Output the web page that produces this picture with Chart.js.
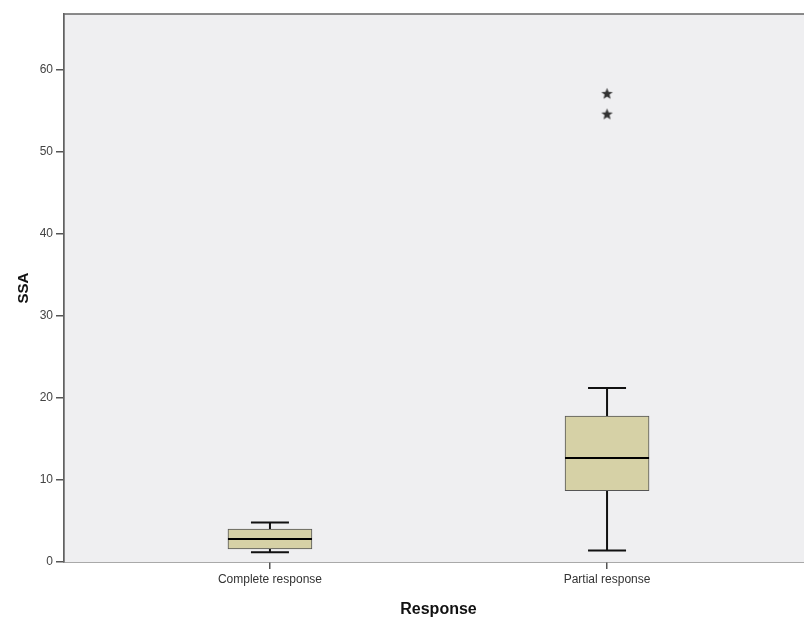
<!DOCTYPE html>
<html>
<head>
<meta charset="utf-8">
<script src="https://cdn.jsdelivr.net/npm/chart.js@4.4.0/dist/chart.umd.min.js"></script>
<style>
html, body { margin: 0; padding: 0; background: #fff; overflow: hidden; }
#wrap { width: 820px; height: 619px; }
</style>
</head>
<body>
<div id="wrap"><canvas id="boxChart"></canvas></div>
<script>
// data
var categories = ['Complete response', 'Partial response'];
var whiskerLow = [1.2, 1.4];
var q1 = [1.6, 8.7];
var median = [2.8, 12.65];
var q3 = [4.0, 17.8];
var whiskerHigh = [4.8, 21.2];
var outliers = [[], [54.6, 57.1]];
var yTicks = [0, 10, 20, 30, 40, 50, 60];

var boxData = [];
var outlierData = [];
for (i = 0; i < categories.length; i++) {
	boxData.push({ x: i + 1, y: [q1[i], q3[i]] });
	for (j = 0; j < outliers[i].length; j++) {
		outlierData.push({ x: i + 1, y: outliers[i][j] });
	}
}

// little filled star like the SPSS extreme marker
var star = document.createElement('canvas');
star.width = 13; star.height = 13;
var sc = star.getContext('2d');
sc.fillStyle = '#333';
sc.beginPath();
for (k = 0; k < 10; k++) {
	var r = k % 2 == 0 ? 6 : 2.6;
	var a = -Math.PI / 2 + k * Math.PI / 5;
	var px = 6.5 + r * Math.cos(a), py = 6.8 + r * Math.sin(a);
	if (k == 0) sc.moveTo(px, py); else sc.lineTo(px, py);
}
sc.closePath();
sc.fill();

var boxPlugin = {
	id: 'boxPlugin',
	beforeDatasetsDraw: function(chart) {
		var a = chart.chartArea, c = chart.ctx;
		c.save();
		c.fillStyle = '#efeff1';
		c.fillRect(a.left, a.top, a.right - a.left, a.bottom - a.top);
		var xs = chart.scales.x, ys = chart.scales.y;
		c.strokeStyle = '#111';
		c.lineWidth = 2;
		for (i = 0; i < categories.length; i++) {
			var cx = xs.getPixelForValue(i + 1);
			c.beginPath();
			c.moveTo(cx, ys.getPixelForValue(q3[i]));
			c.lineTo(cx, ys.getPixelForValue(whiskerHigh[i]));
			c.moveTo(cx - 19, ys.getPixelForValue(whiskerHigh[i]));
			c.lineTo(cx + 19, ys.getPixelForValue(whiskerHigh[i]));
			c.moveTo(cx, ys.getPixelForValue(q1[i]));
			c.lineTo(cx, ys.getPixelForValue(whiskerLow[i]));
			c.moveTo(cx - 19, ys.getPixelForValue(whiskerLow[i]));
			c.lineTo(cx + 19, ys.getPixelForValue(whiskerLow[i]));
			c.stroke();
		}
		c.restore();
	},
	afterDatasetsDraw: function(chart) {
		var a = chart.chartArea, c = chart.ctx;
		var xs = chart.scales.x, ys = chart.scales.y;
		c.save();
		c.strokeStyle = '#000';
		c.lineWidth = 2;
		for (i = 0; i < categories.length; i++) {
			var cx = xs.getPixelForValue(i + 1);
			var my = Math.round(ys.getPixelForValue(median[i]));
			c.beginPath();
			c.moveTo(cx - 42, my);
			c.lineTo(cx + 42, my);
			c.stroke();
		}
		c.strokeStyle = '#666';
		c.lineWidth = 1.5;
		c.beginPath();
		c.moveTo(a.left, a.bottom);
		c.lineTo(a.left, a.top);
		c.lineTo(a.right, a.top);
		c.stroke();
		c.restore();
	}
};

var ctx = document.getElementById('boxChart').getContext('2d');
var myChart = new Chart(ctx, {
	type: 'bar',
	data: {
		datasets: [{
			type: 'bar',
			data: boxData,
			backgroundColor: '#d6d1a6',
			borderColor: '#555',
			borderWidth: 1,
			borderSkipped: false,
			barThickness: 84
		}, {
			type: 'scatter',
			data: outlierData,
			pointStyle: star,
			pointRadius: 6
		}]
	},
	options: {
		responsive: true,
		maintainAspectRatio: false,
		animation: false,
		layout: { padding: { top: 14, right: 7, left: 0, bottom: 0 } },
		plugins: { legend: { display: false }, tooltip: { enabled: false } },
		scales: {
			x: {
				type: 'linear',
				min: 0.389,
				max: 2.611,
				offset: false,
				afterBuildTicks: function(axis) {
					axis.ticks = [{ value: 1 }, { value: 2 }];
				},
				afterFit: function(axis) { axis.height = 57; },
				ticks: {
					callback: function(v) { return categories[v - 1]; },
					color: '#333',
					font: { family: 'Arial, Liberation Sans', size: 12 },
					padding: 3,
					maxRotation: 0
				},
				grid: { offset: false, drawOnChartArea: false, tickLength: 7, color: '#555', lineWidth: 1.5 },
				border: { color: '#555', width: 1.5 },
				title: {
					display: true,
					text: 'Response',
					color: '#111',
					font: { family: 'Arial, Liberation Sans', size: 16, weight: 'bold' },
					padding: { top: 0, bottom: 0 }
				}
			},
			y: {
				min: 0,
				max: 66.8,
				afterBuildTicks: function(axis) {
					axis.ticks = yTicks.map(function(v) { return { value: v }; });
				},
				afterFit: function(axis) { axis.width = 64; },
				ticks: {
					color: '#444',
					font: { family: 'Arial, Liberation Sans', size: 12 },
					padding: 3
				},
				grid: { drawOnChartArea: false, tickLength: 8, color: '#555', lineWidth: 1.5 },
				border: { color: '#555', width: 1.5 },
				title: {
					display: true,
					text: 'SSA',
					color: '#111',
					font: { family: 'Arial, Liberation Sans', size: 15, weight: 'bold' },
					padding: { top: 15, bottom: 0 }
				}
			}
		}
	},
	plugins: [boxPlugin]
});
</script>
</body>
</html>
